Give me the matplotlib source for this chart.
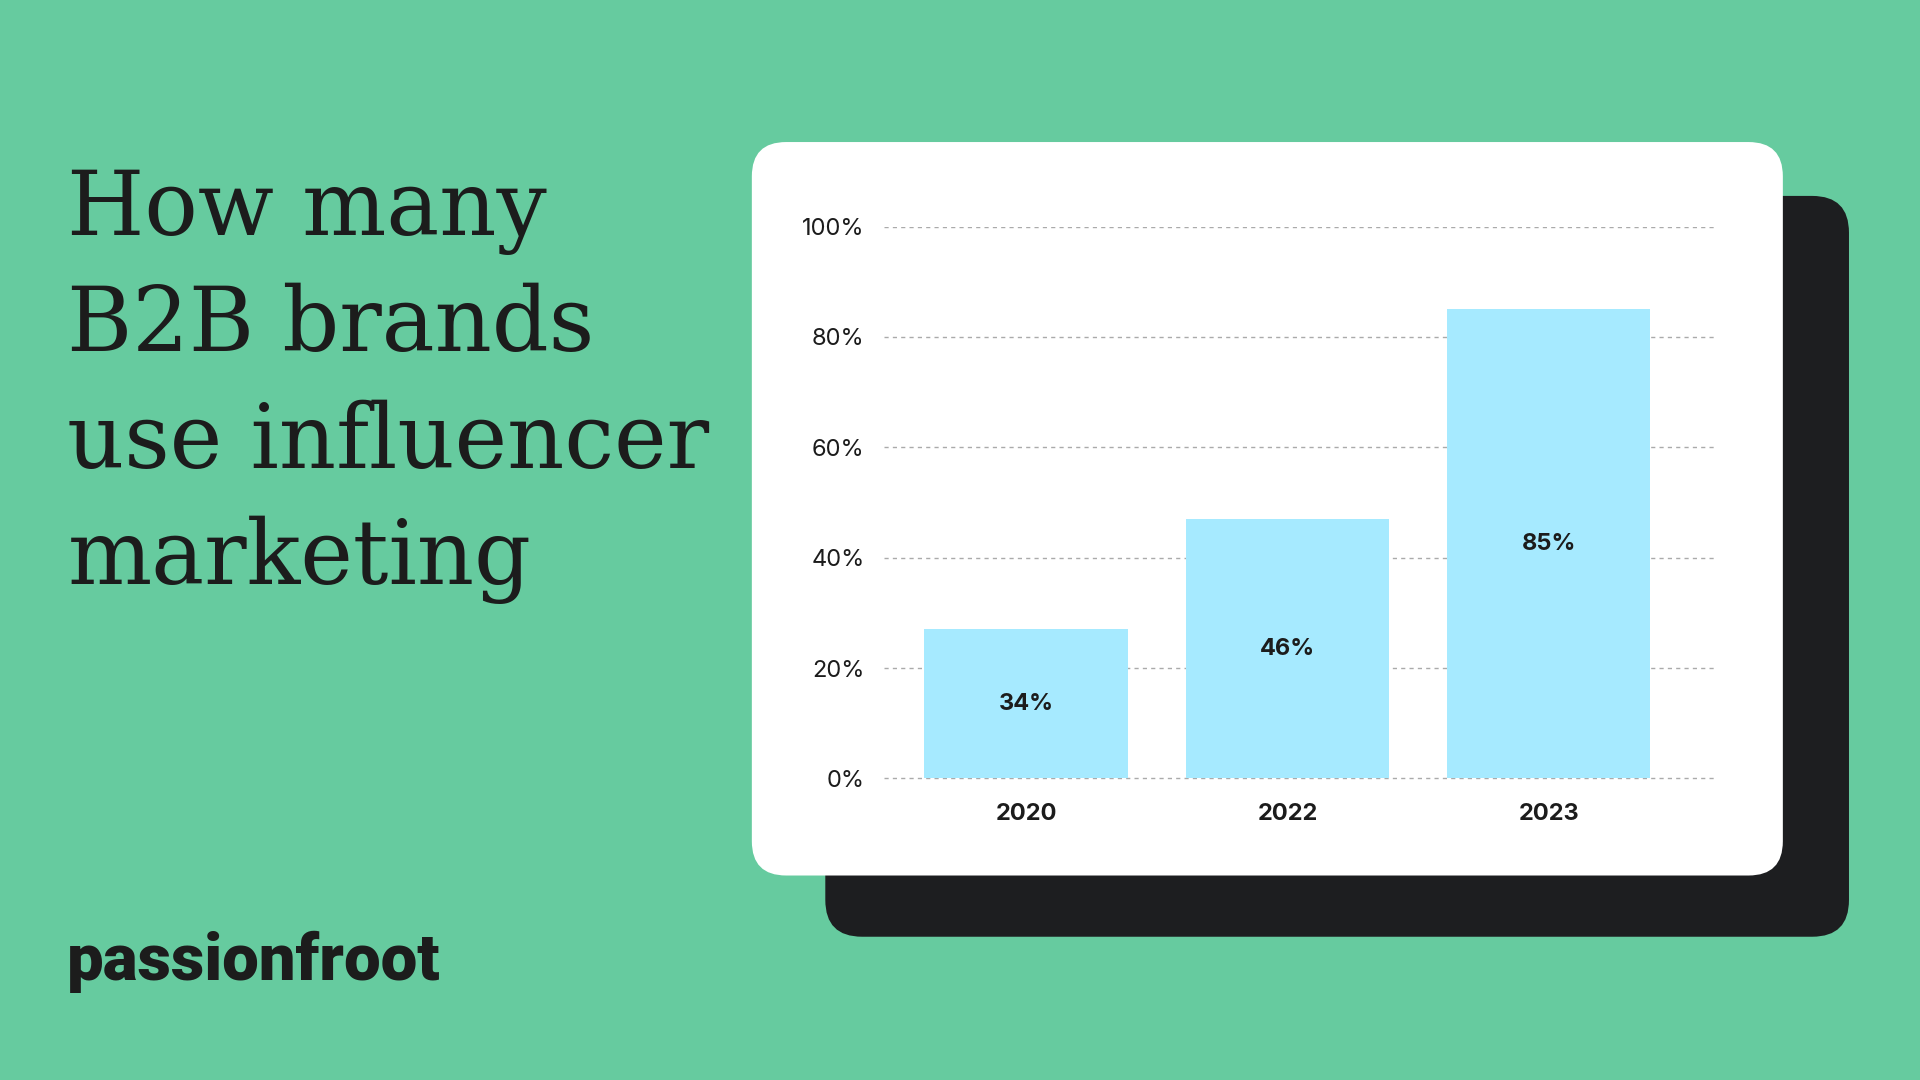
import matplotlib
matplotlib.use("Agg")
import matplotlib.pyplot as plt
from matplotlib.patches import FancyBboxPatch

years = ["2020", "2022", "2023"]
bar_heights = [27, 47, 85]          # visual heights as drawn in the reference
bar_labels = ["34%", "46%", "85%"]
yticks = [0, 20, 40, 60, 80, 100]
ytick_labels = ["0%", "20%", "40%", "60%", "80%", "100%"]

BG = "#66CB9F"
BAR = "#A6EAFF"
INK = "#1C1C1C"

fig = plt.figure(figsize=(19.2, 10.8), dpi=100, facecolor=BG)
W, H = 1568, 882
bg = fig.add_axes([0, 0, 1, 1])
bg.set_xlim(0, W); bg.set_ylim(H, 0); bg.axis("off")

bg.add_patch(FancyBboxPatch((674 + 30, 160 + 30), 836 - 60, 605 - 60,
             boxstyle="round,pad=30", fc="#1D1E20", ec="none"))
bg.add_patch(FancyBboxPatch((614 + 28, 116 + 28), 842 - 56, 599 - 56,
             boxstyle="round,pad=28", fc="white", ec="none"))

title_lines = ["How many", "B2B brands", "use influencer", "marketing"]
for i, line in enumerate(title_lines):
    bg.text(55, 192 + i * 95, line, fontsize=64, family="DejaVu Serif", color=INK,
            va="baseline", ha="left")
bg.text(55, 800, "passionfroot", fontsize=47, family="Roboto", weight="black",
        color=INK, va="baseline", ha="left")

ax = fig.add_axes([722 / W, 1 - 638 / H, 680 / W, (638 - 185) / H])
ax.patch.set_alpha(0)
x = list(range(len(years)))
ax.bar(x, bar_heights, width=0.777, color=BAR, zorder=2)
for xi, h, lab in zip(x, bar_heights, bar_labels):
    ax.text(xi, h / 2, lab, ha="center", va="center", fontsize=17,
            weight="bold", family="Inter", color=INK, zorder=3)
ax.set_xlim(-0.543, 2.642)
ax.set_ylim(-0.5, 100)
ax.set_yticks(yticks)
ax.set_yticklabels(ytick_labels, fontsize=17, family="Inter", color=INK)
ax.set_xticks(x)
ax.set_xticklabels(years, fontsize=17, family="Inter", weight="bold", color=INK)
ax.tick_params(length=0, axis="y", pad=14)
ax.tick_params(length=0, axis="x", pad=16)
ax.grid(axis="y", linestyle=(0, (3, 3)), color="#AAAAAA", linewidth=1, zorder=1)
for s in ax.spines.values():
    s.set_visible(False)

fig.savefig("out.png", dpi=100, facecolor=BG)
